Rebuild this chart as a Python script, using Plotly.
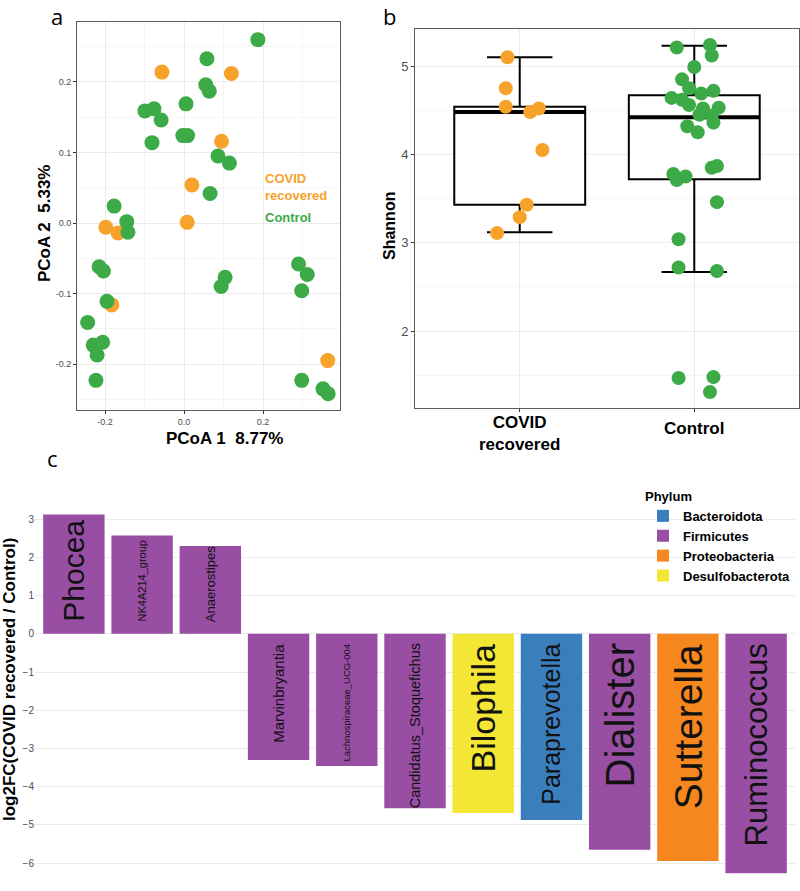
import plotly.graph_objects as go

# ---------------- data ----------------
# Panel a: PCoA coordinates
pcoa_covid_x = [-0.056, 0.120, 0.095, 0.020, 0.008, -0.198, -0.167, -0.183, 0.364]
pcoa_covid_y = [0.214, 0.212, 0.116, 0.054, 0.001, -0.006, -0.014, -0.116, -0.195]
pcoa_ctrl_x = [0.187, 0.058, 0.055, 0.064, -0.099, -0.076, -0.058, 0.005, -0.003, 0.009,
               -0.081, 0.086, 0.115, 0.066, -0.177, -0.145, -0.142, -0.215, -0.204, 0.104,
               0.094, -0.195, -0.244, -0.230, -0.206, -0.220, -0.223, 0.290, 0.312, 0.298,
               0.298, 0.352, 0.365]
pcoa_ctrl_y = [0.260, 0.233, 0.196, 0.187, 0.159, 0.162, 0.146, 0.169, 0.124, 0.124,
               0.114, 0.095, 0.085, 0.042, 0.024, 0.002, -0.013, -0.062, -0.068, -0.077,
               -0.090, -0.111, -0.141, -0.173, -0.169, -0.187, -0.223, -0.058, -0.073, -0.096,
               -0.223, -0.235, -0.242]

# Panel b: Shannon diversity
groups = ["COVID<br>recovered", "Control"]
group_pos = [1, 2]
box_q1 = [3.43, 3.72]
box_median = [4.48, 4.42]
box_q3 = [4.54, 4.67]
box_lower = [3.12, 2.67]
box_upper = [5.10, 5.23]
shannon_covid = [5.10, 4.75, 4.54, 4.48, 4.52, 4.05, 3.43, 3.29, 3.11]
jitter_covid = [-0.07, -0.08, -0.08, 0.06, 0.11, 0.13, 0.04, 0.00, -0.13]
shannon_ctrl = [5.21, 5.24, 5.12, 4.99, 4.85, 4.75, 4.69, 4.72, 4.64, 4.62, 4.56, 4.52,
                4.53, 4.45, 4.44, 4.36, 4.32, 4.25, 3.85, 3.87, 3.78, 3.71, 3.75, 3.46,
                3.04, 2.72, 2.68, 1.47, 1.48, 1.31]
jitter_ctrl = [-0.10, 0.09, 0.10, 0.00, -0.07, -0.03, 0.04, 0.11, -0.13, -0.07, -0.03, 0.05,
               0.14, 0.03, 0.10, 0.11, -0.04, 0.02, 0.10, 0.13, -0.12, -0.10, -0.05, 0.13,
               -0.09, -0.09, 0.13, -0.09, 0.11, 0.09]

# Panel c: log2 fold change per genus
genera = ["Phocea", "NK4A214_group", "Anaerostipes", "Marvinbryantia",
          "Lachnospiraceae_UCG-004", "Candidatus_Stoquefichus", "Bilophila",
          "Paraprevotella", "Dialister", "Sutterella", "Ruminococcus"]
log2fc = [3.12, 2.57, 2.30, -3.30, -3.46, -4.56, -4.69, -4.87, -5.65, -5.94, -6.26]
phylum = ["Firmicutes", "Firmicutes", "Firmicutes", "Firmicutes", "Firmicutes",
          "Firmicutes", "Desulfobacterota", "Bacteroidota", "Firmicutes",
          "Proteobacteria", "Firmicutes"]
phylum_order = ["Bacteroidota", "Firmicutes", "Proteobacteria", "Desulfobacterota"]
fc_ticks = [3, 2, 1, 0, -1, -2, -3, -4, -5, -6]

# ---------------- styles ----------------
W, H = 800, 891
ORANGE = "#F7A22A"
GREEN = "#3BAA47"
PHY_COL = {"Bacteroidota": "#3A7EBD", "Firmicutes": "#984EA3",
           "Proteobacteria": "#F6871F", "Desulfobacterota": "#F4E634"}
REG = "Liberation Sans, Arial, sans-serif"
LABEL_SIZE = {
    "Phocea": 30, "NK4A214_group": 11, "Anaerostipes": 13,
    "Marvinbryantia": 15, "Lachnospiraceae_UCG-004": 9.5,
    "Candidatus_Stoquefichus": 14.5, "Bilophila": 34,
    "Paraprevotella": 25, "Dialister": 40, "Sutterella": 39,
    "Ruminococcus": 31,
}
BORDER = "#5a5a5a"
GRID = "#EBEBEB"
MINOR = "#F5F5F5"


def xd(a, b):
    return [a / W, b / W]


def yd(top, bottom):
    return [1 - bottom / H, 1 - top / H]


fig = go.Figure()

# ---- panel a ----
fig.add_trace(go.Scatter(x=pcoa_covid_x, y=pcoa_covid_y, mode="markers",
                         marker=dict(size=15, color=ORANGE), xaxis="x", yaxis="y",
                         showlegend=False, hoverinfo="skip"))
fig.add_trace(go.Scatter(x=pcoa_ctrl_x, y=pcoa_ctrl_y, mode="markers",
                         marker=dict(size=15, color=GREEN), xaxis="x", yaxis="y",
                         showlegend=False, hoverinfo="skip"))

# ---- panel b ----
fig.add_trace(go.Box(x=group_pos, q1=box_q1, median=box_median, q3=box_q3,
                     lowerfence=box_lower, upperfence=box_upper, width=0.75,
                     fillcolor="white", line=dict(color="black", width=2),
                     boxpoints=False, xaxis="x2", yaxis="y2", showlegend=False,
                     hoverinfo="skip"))
for p, m in zip(group_pos, box_median):
    fig.add_trace(go.Scatter(x=[p - 0.375, p + 0.375], y=[m, m], mode="lines",
                             line=dict(color="black", width=4), xaxis="x2", yaxis="y2",
                             showlegend=False, hoverinfo="skip"))
fig.add_trace(go.Scatter(x=[group_pos[0] + j for j in jitter_covid], y=shannon_covid,
                         mode="markers", marker=dict(size=14, color=ORANGE),
                         xaxis="x2", yaxis="y2", showlegend=False, hoverinfo="skip"))
fig.add_trace(go.Scatter(x=[group_pos[1] + j for j in jitter_ctrl], y=shannon_ctrl,
                         mode="markers", marker=dict(size=14, color=GREEN),
                         xaxis="x2", yaxis="y2", showlegend=False, hoverinfo="skip"))

# ---- panel c ----
for ph in phylum_order:
    xs = [g for g, p in zip(genera, phylum) if p == ph]
    ys = [v for v, p in zip(log2fc, phylum) if p == ph]
    fig.add_trace(go.Bar(x=xs, y=ys, name=ph, marker=dict(color=PHY_COL[ph], line_width=0),
                         width=0.9, xaxis="x3", yaxis="y3", hoverinfo="skip"))

annotations = []
for g, v in zip(genera, log2fc):
    annotations.append(dict(
        x=g, y=0, xref="x3", yref="y3", text=g, showarrow=False, textangle=-90,
        font=dict(family=REG, size=LABEL_SIZE[g], color="#111111"),
        xanchor="center", yanchor="bottom" if v > 0 else "top",
        yshift=10 if v > 0 else -8))


def pa(px, py, text, size, color="black", angle=0, weight="bold", family=REG,
       xanchor="center", **kw):
    return dict(x=px / W, y=1 - py / H, xref="paper", yref="paper", text=text,
                showarrow=False, textangle=angle, xanchor=xanchor, yanchor="middle",
                font=dict(size=size, family=family, color=color, weight=weight), **kw)


annotations += [
    pa(224, 438, "PCoA 1  8.77%", 17),
    pa(45, 224, "PCoA 2  5.33%", 17, angle=-90),
    pa(263, 186.5, "COVID<br>recovered", 13, color=ORANGE, xanchor="left", align="left"),
    pa(263, 217, "Control", 13, color=GREEN, xanchor="left"),
    pa(390, 226, "Shannon", 16, angle=-90),
    pa(9, 680, "log2FC(COVID recovered / Control)", 17, angle=-90),
    pa(57, 16, "a", 22, weight="normal", family="Open Sans"),
    pa(389, 16, "b", 22, weight="normal", family="Open Sans"),
    pa(52, 458, "c", 22, weight="normal", family="Open Sans"),
    dict(x=group_pos[0], y=1 - 433.5 / H, xref="x2", yref="paper", text=groups[0],
         showarrow=False, xanchor="center", yanchor="middle",
         font=dict(size=17, family=REG, color="black", weight="bold")),
    dict(x=group_pos[1], y=1 - 429 / H, xref="x2", yref="paper", text=groups[1],
         showarrow=False, xanchor="center", yanchor="middle",
         font=dict(size=17, family=REG, color="black", weight="bold")),
]

frame = dict(showline=True, mirror=True, linecolor=BORDER, linewidth=1, zeroline=False,
             ticks="outside", ticklen=3, tickcolor="#333333", gridcolor=GRID, gridwidth=1)

fig.update_layout(
    width=W, height=H, margin=dict(l=0, r=0, t=0, b=0),
    paper_bgcolor="white", plot_bgcolor="white", barmode="overlay",
    font=dict(family=REG),
    xaxis=dict(domain=xd(77, 340), range=[-0.271, 0.395], tickvals=[-0.2, 0.0, 0.2],
               ticktext=["-0.2", "0.0", "0.2"], tickfont=dict(size=9, color="#4D4D4D"),
               minor=dict(tickvals=[-0.1, 0.1, 0.3], showgrid=True, gridcolor=MINOR, ticks=""),
               anchor="y", **frame),
    yaxis=dict(domain=yd(22, 410), range=[-0.265, 0.285],
               tickvals=[-0.2, -0.1, 0.0, 0.1, 0.2],
               ticktext=["-0.2", "-0.1", "0.0", "0.1", "0.2"],
               tickfont=dict(size=9, color="#4D4D4D"),
               minor=dict(tickvals=[-0.25, -0.15, -0.05, 0.05, 0.15, 0.25], showgrid=True,
                          gridcolor=MINOR, ticks=""),
               anchor="x", **frame),
    xaxis2=dict(domain=xd(415, 799), range=[0.4, 2.6], tickvals=group_pos,
                showticklabels=False, anchor="y2", **frame),
    yaxis2=dict(domain=yd(29, 408), range=[1.13, 5.42], tickvals=[2, 3, 4, 5],
                tickfont=dict(size=13, color="#4D4D4D"),
                minor=dict(tickvals=[1.5, 2.5, 3.5, 4.5], showgrid=True, gridcolor=MINOR,
                           ticks=""),
                anchor="x2", **frame),
    xaxis3=dict(domain=xd(35, 795), range=[-0.57, 10.57], type="category",
                categoryorder="array", categoryarray=genera, showticklabels=False,
                showgrid=False, zeroline=False, showline=False, anchor="y3"),
    yaxis3=dict(domain=yd(500, 878.5), range=[-6.4, 3.5], tickvals=fc_ticks,
                tickfont=dict(size=10, color="#4D4D4D"), gridcolor=GRID, zeroline=False,
                showline=False, ticks="", anchor="x3"),
    legend=dict(x=643 / W, y=1 - 484 / H, xanchor="left", yanchor="top",
                bgcolor="rgba(0,0,0,0)", tracegroupgap=0,
                font=dict(size=13, family=REG, color="black", weight="bold"),
                title=dict(text="Phylum", font=dict(size=13, family=REG, color="black",
                                                    weight="bold"))),
    annotations=annotations,
)

fig.write_html("out.html", config={"displayModeBar": False},
               post_script="document.body.style.margin='0px';"
                           "document.body.style.overflow='hidden';")
